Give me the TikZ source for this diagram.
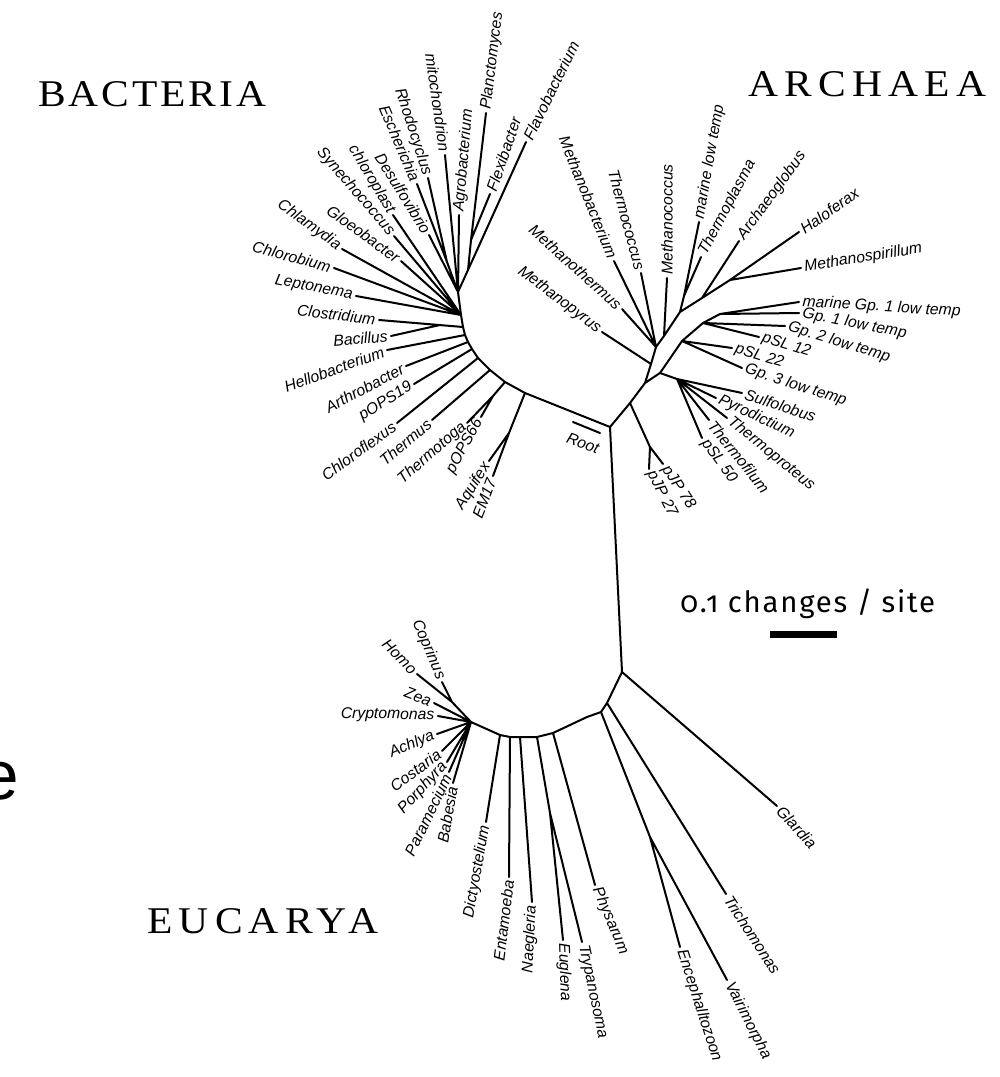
\documentclass[tikz,border=0pt]{standalone}
\usepackage{fontspec}
\usepackage{graphicx}
\newfontfamily\labfont{Liberation Sans}
\newfontfamily\titlefontA[LetterSpace=7]{Liberation Serif}
\newfontfamily\titlefontB[LetterSpace=15]{Liberation Serif}
\newfontfamily\scalefont[Numbers=OldStyle,LetterSpace=6]{Fira Sans}
\newcommand\lf[6]{\coordinate (#1) at (#2,#3); \node[lab,anchor=#4,rotate=#5] (t#1) at (#1) {#6};}
\begin{document}
\begin{tikzpicture}[x=0.75pt,y=-0.75pt,
  lab/.style={font=\labfont\itshape\fontsize{11.8}{13}\selectfont\frenchspacing, inner sep=2.5pt},
  br/.style={line width=1.5pt, line cap=round, line join=round},
  ttl/.style={inner sep=0pt, anchor=base west}]
\useasboundingbox (0,0) rectangle (999,1077);
% ---------------- Bacteria leaves
\lf{Flavo}{526}{142}{west}{64}{Flavobacterium}
\lf{Flexi}{490}{194}{west}{71}{Flexibacter}
\lf{Planc}{486}{113}{west}{83}{Planctomyces}
\lf{Agro}{459}{215}{west}{85}{Agrobacterium}
\lf{Mito}{445}{155}{east}{-82}{mitochondrion}
\lf{Rhodo}{428}{178}{east}{-72}{Rhodocyclus}
\lf{Esch}{417}{184}{east}{-67}{Escherichia}
\lf{Desulf}{429}{235}{east}{-58}{Desulfovibrio}
\lf{Chloro}{393}{215}{east}{-59}{chloroplast}
\lf{Synech}{394}{236}{east}{-49}{Synechococcus}
\lf{Gloeo}{401}{261}{east}{-36}{Gloeobacter}
\lf{Chlam}{342}{249}{east}{-36}{Chlamydia}
\lf{Chlorob}{334}{268}{east}{-15}{Chlorobium}
\lf{Lepto}{356}{296}{east}{-11}{Leptonema}
\lf{Clost}{379}{320}{east}{-7}{Clostridium}
\lf{Bacil}{391}{336}{east}{5}{Bacillus}
\lf{Hello}{387}{350}{east}{20}{Hellobacterium}
\lf{Arthro}{406}{366}{east}{28}{Arthrobacter}
\lf{pOPSa}{414}{384}{east}{32}{pOPS19}
\lf{Chlflex}{397}{423}{east}{36}{Chloroflexus}
\lf{Thermus}{432}{420}{east}{40}{Thermus}
\lf{Thtoga}{467}{423}{east}{41}{Thermotoga}
\lf{pOPSb}{481}{417}{east}{61}{pOPS66}
\lf{Aquif}{489}{461}{east}{58}{Aquifex}
\lf{EMs}{493}{476}{east}{69}{EM17}
% ---------------- Archaea leaves
\lf{Mpyrus}{602}{332}{east}{-37}{Methanopyrus}
\lf{Mthermus}{622}{309}{east}{-42}{Methanothermus}
\lf{Mbact}{614}{261}{east}{-68}{Methanobacterium}
\lf{Thcoc}{641}{273}{east}{-75}{Thermococcus}
\lf{Mcoccus}{667}{278}{west}{90}{Methanococcus}
\lf{marlow}{699}{222}{west}{80}{marine low temp}
\lf{Tplasma}{701}{257}{west}{62}{Thermoplasma}
\lf{Aglob}{739}{241}{west}{54}{Archaeoglobus}
\lf{Halof}{799}{232}{west}{35}{Haloferax}
\lf{Mspir}{801}{268}{west}{9}{Methanospirillum}
\lf{mGpa}{799}{302}{west}{-3.6}{marine Gp. 1 low temp}
\lf{Gpa}{799}{313}{west}{-11}{Gp. 1 low temp}
\lf{Gpb}{785}{326}{west}{-17}{Gp. 2 low temp}
\lf{pSLa}{759}{337}{west}{-17}{pSL 12}
\lf{pSLb}{732}{348}{west}{-17}{pSL 22}
\lf{Gpc}{742}{368}{west}{-18}{Gp. 3 low temp}
\lf{Sulf}{742}{393}{west}{-18}{Sulfolobus}
\lf{Pyro}{716}{398}{west}{-25}{Pyrodictium}
\lf{Tprot}{727}{418}{west}{-39}{Thermoproteus}
\lf{Tfil}{709}{420}{west}{-51}{Thermofilum}
\lf{pSLc}{702}{438}{west}{-54}{pSL 50}
\lf{pJPa}{663}{464}{west}{-57}{pJP 78}
\lf{pJPb}{649}{469}{west}{-63}{pJP 27}
% ---------------- Eucarya leaves
\lf{Copr}{442}{682}{east}{-67}{Coprinus}
\lf{Homo}{417}{674}{east}{-45}{Homo}
\lf{Zea}{434}{703}{east}{-21}{Zea}
\lf{Crypt}{438}{716}{east}{-1}{Cryptomonas}
\lf{Achl}{437}{734}{east}{23}{Achlya}
\lf{Cost}{442}{751}{east}{36}{Costaria}
\lf{Porph}{447}{762}{east}{47}{Porphyra}
\lf{Param}{449}{772}{east}{64}{Paramecium}
\lf{Babes}{453}{783}{east}{80}{Babesia}
\lf{Dicty}{486}{822}{east}{80}{Dictyostelium}
\lf{Entam}{509}{877}{east}{83}{Entamoeba}
\lf{Naeg}{532}{902}{east}{87}{Naegleria}
\lf{Eugl}{563}{940}{west}{-88}{Euglena}
\lf{Tryp}{582}{942}{west}{-78}{Trypanosoma}
\lf{Phys}{595}{885}{west}{-67}{Physarum}
\lf{Ence}{680}{947}{west}{-72}{Encephalltozoon}
\lf{Vair}{727}{980}{west}{-63}{Vairimorpha}
\lf{Trich}{726}{894}{west}{-57}{Trichomonas}
\lf{Giard}{777}{806}{west}{-47}{Glardia}
% ---------------- internal points
\coordinate (R) at (610,427);
\coordinate (bb1) at (525,393); \coordinate (bb2) at (505,382);
\coordinate (bb3) at (490,370); \coordinate (bb4) at (478,358);
\coordinate (bb5) at (472,349); \coordinate (bb6) at (468,342);
\coordinate (bb7) at (465,335); \coordinate (bb8) at (463,327);
\coordinate (bh) at (461,315);  \coordinate (bu) at (458,292);
\coordinate (bq) at (509,433);  \coordinate (bt) at (493,396);
\coordinate (bc) at (440,325);  \coordinate (be) at (447,262);
\coordinate (bf) at (468,270);  \coordinate (bx) at (471,240);
\coordinate (a1) at (630,403);  \coordinate (a2) at (645,383);
\coordinate (e0) at (651,364);  \coordinate (e1) at (656,347);
\coordinate (e2) at (664,336);  \coordinate (e3) at (680,312);
\coordinate (ea) at (702,298);  \coordinate (ehm) at (730,280);
\coordinate (et) at (684,296);  \coordinate (pj) at (650,447);
\coordinate (lt0) at (660,373); \coordinate (c1) at (677,379);
\coordinate (lt1) at (682,341); \coordinate (lt2) at (703,323);
\coordinate (lt3) at (720,314);
\coordinate (E0) at (622,672);  \coordinate (ep1) at (607,703);
\coordinate (ep1b) at (601,712); \coordinate (ep2) at (587,717);
\coordinate (ep3) at (553,733); \coordinate (ep4) at (537,737);
\coordinate (ep4b) at (520,737); \coordinate (ep4c) at (510,737);
\coordinate (ep5) at (500,735); \coordinate (ep6) at (471,722);
\coordinate (ev) at (650,837);  \coordinate (ete) at (550,813);
\coordinate (eh) at (452,702);
% ---------------- branches
\draw[br] (R) -- (bb1) -- (bb2) -- (bb3) -- (bb4) -- (bb5) -- (bb6) -- (bb7) -- (bb8) -- (bh) -- (bu);
\draw[br] (bb1) -- (bq) -- (EMs) (bq) -- (Aquif)
  (bb2) -- (bt) -- (Thtoga) (bt) -- (pOPSb)
  (bb3) -- (Thermus) (bb4) -- (Chlflex) (bb5) -- (pOPSa) (bb6) -- (Arthro)
  (bb7) -- (Hello) (bb8) -- (Clost) (bc) -- (Bacil)
  (bh) -- (Lepto) (bh) -- (Chlorob) (bh) -- (Chlam) (bh) -- (Gloeo) (bh) -- (Synech) (bh) -- (Chloro)
  (bu) -- (Desulf) (bu) -- (be) -- (Esch) (be) -- (Rhodo) (bu) -- (Mito) (bu) -- (Agro)
  (bu) -- (bf) -- (bx) -- (Planc) (bx) -- (Flexi) (bf) -- (Flavo);
\draw[br] (R) -- (a1) -- (a2) -- (e0) -- (e1) -- (e2) -- (e3) -- (ea) -- (ehm) -- (Halof)
  (ehm) -- (Mspir) (ea) -- (Aglob) (e3) -- (et) -- (marlow) (et) -- (Tplasma)
  (e2) -- (Mcoccus) (e1) -- (Thcoc) (e1) -- (Mbact) (e1) -- (Mthermus) (e0) -- (Mpyrus)
  (a1) -- (pj) -- (pJPb) (pj) -- (pJPa)
  (a2) -- (lt0) -- (c1) (c1) -- (Sulf) (c1) -- (Pyro) (c1) -- (Tprot) (c1) -- (Tfil) (c1) -- (pSLc)
  (lt0) -- (lt1) -- (lt2) -- (lt3) -- (mGpa) (lt3) -- (Gpa) (lt2) -- (Gpb) (lt2) -- (pSLa)
  (lt1) -- (pSLb) (lt1) -- (Gpc);
\draw[br] (R) -- (E0) -- (ep1) -- (ep1b) -- (ep2) -- (ep3) -- (ep4) -- (ep4b) -- (ep4c) -- (ep5) -- (ep6)
  (E0) -- (Giard) (ep1) -- (Trich) (ep1b) -- (ev) -- (Vair) (ev) -- (Ence)
  (ep3) -- (Phys) (ep4) -- (ete) -- (Eugl) (ete) -- (Tryp) (ep4b) -- (Naeg) (ep4c) -- (Entam) (ep5) -- (Dicty)
  (ep6) -- (eh) -- (Copr) (eh) -- (Homo) (ep6) -- (Zea) (ep6) -- (Crypt)
  (ep6) -- (Achl) (ep6) -- (Cost) (ep6) -- (Porph) (ep6) -- (Param) (ep6) -- (Babes);
% root marker
\coordinate (rm1) at (573,422); \coordinate (rm2) at (600,433);
\draw[br] (rm1) -- (rm2);
\node[lab, rotate=-20] (root) at (583,443) {Root};
% titles
\node[ttl, font=\titlefontA\fontsize{28.3}{32}\selectfont] (bact) at (38,107) {\scalebox{1.1}[1]{BACTERIA}};
\node[ttl, font=\titlefontB\fontsize{28.3}{32}\selectfont] (arch) at (748,97) {\scalebox{1.1}[1]{ARCHAEA}};
\node[ttl, font=\titlefontB\fontsize{28.3}{32}\selectfont] (euc) at (147,933) {\scalebox{1.1}[1]{EUCARYA}};
% scale
\node[anchor=base west, inner sep=0pt, font=\scalefont\fontsize{22}{26}\selectfont] (scl) at (680,612) {0.1 changes / site};
\coordinate (sb1) at (770,631); \coordinate (sb2) at (837,638);
\fill (sb1) rectangle (sb2);
% partial glyph at left edge
\node[anchor=base east, inner sep=0pt, font=\labfont\fontsize{52}{60}\selectfont] (ee) at (19,799) {e};
\end{tikzpicture}
\end{document}
